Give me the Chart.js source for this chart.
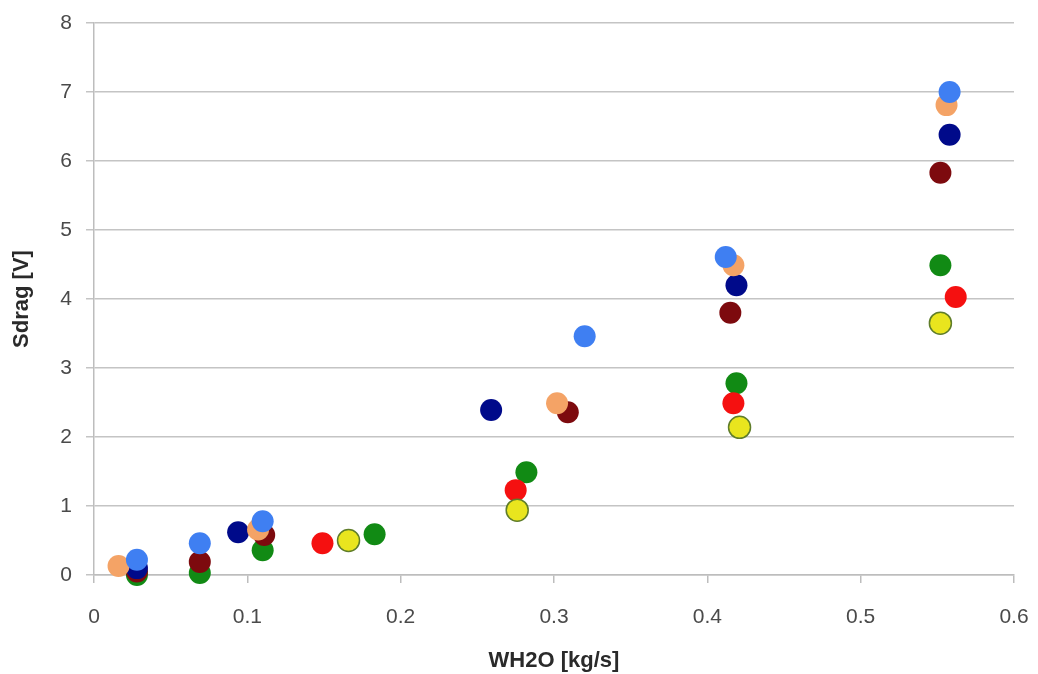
<!DOCTYPE html>
<html>
<head>
<meta charset="utf-8">
<script src="https://cdn.jsdelivr.net/npm/chart.js@4/dist/chart.umd.min.js"></script>
<style>
html,body{margin:0;padding:0;background:#fff;}
#wrap{width:1038px;height:674px;position:relative;}
</style>
</head>
<body>
<div id="wrap"><canvas id="c" width="1038" height="674"></canvas></div>
<script>
// Data: [WH2O kg/s, Sdrag V]
const lightBlue = [[0.028,0.22],[0.069,0.46],[0.110,0.78],[0.320,3.46],[0.412,4.61],[0.558,7.00]];
const orange    = [[0.016,0.13],[0.107,0.66],[0.302,2.49],[0.417,4.49],[0.556,6.81]];
const navy      = [[0.028,0.10],[0.094,0.62],[0.259,2.39],[0.419,4.20],[0.558,6.38]];
const maroon    = [[0.028,0.05],[0.069,0.19],[0.111,0.58],[0.309,2.36],[0.415,3.80],[0.552,5.83]];
const yellow    = [[0.166,0.50],[0.276,0.94],[0.421,2.14],[0.552,3.65]];
const red       = [[0.149,0.46],[0.275,1.23],[0.417,2.49],[0.562,4.03]];
const green     = [[0.028,0.00],[0.069,0.03],[0.110,0.36],[0.183,0.59],[0.282,1.49],[0.419,2.78],[0.552,4.49]];

const xTicks = [0,0.1,0.2,0.3,0.4,0.5,0.6];
const yTicks = [0,1,2,3,4,5,6,7,8];
const xTitle = 'WH2O [kg/s]';
const yTitle = 'Sdrag [V]';

function pts(a){ return a.map(p => ({x:p[0], y:p[1]})); }
function ds(a, fill, border){
  return {data: pts(a), backgroundColor: fill, borderColor: border || fill,
          borderWidth: border ? 1.5 : 0, pointRadius: 11, pointHoverRadius: 11, clip: false};
}

new Chart(document.getElementById('c'), {
  type: 'scatter',
  data: { datasets: [
    ds(lightBlue, '#3f7ff2'),
    ds(orange, '#f4a366'),
    ds(navy, '#000a8a'),
    ds(maroon, '#7d0a0e'),
    ds(yellow, '#e9e51e', '#5f7d2a'),
    ds(red, '#f51010'),
    ds(green, '#118a14')
  ]},
  options: {
    responsive: false,
    animation: false,
    layout: {padding: {left: 0, right: 24, top: 23, bottom: 0}},
    plugins: {legend: {display: false}, tooltip: {enabled: false}},
    scales: {
      x: {
        type: 'linear', min: 0, max: 0.6,
        afterBuildTicks: ax => { ax.ticks = xTicks.map(v => ({value: v})); },
        afterFit: ax => { ax.height = 99; ax.paddingLeft = 0; ax.paddingRight = 0; },
        ticks: {color: '#4a4a4a', font: {family: 'Liberation Sans', size: 21}, padding: 22,
                callback: v => String(v)},
        grid: {drawOnChartArea: false, color: '#bdbdbd', tickLength: 8, lineWidth: 1.5},
        border: {color: '#bdbdbd', width: 1.5},
        title: {display: true, text: xTitle, color: '#2a2a2a',
                font: {family: 'Liberation Sans', size: 22, weight: 'bold'}, padding: {top: 0, bottom: 0}}
      },
      y: {
        type: 'linear', min: 0, max: 8,
        afterBuildTicks: ax => { ax.ticks = yTicks.map(v => ({value: v})); },
        afterFit: ax => { ax.width = 94; ax.paddingTop = 0; ax.paddingBottom = 0; },
        ticks: {color: '#4a4a4a', font: {family: 'Liberation Sans', size: 21}, padding: 14},
        grid: {color: '#c4c4c4', tickLength: 8, lineWidth: 1.5},
        border: {color: '#bdbdbd', width: 1.5},
        title: {display: true, text: yTitle, color: '#2a2a2a',
                font: {family: 'Liberation Sans', size: 22, weight: 'bold'}, padding: {top: 9, bottom: 0}}
      }
    }
  }
});
</script>
</body>
</html>
